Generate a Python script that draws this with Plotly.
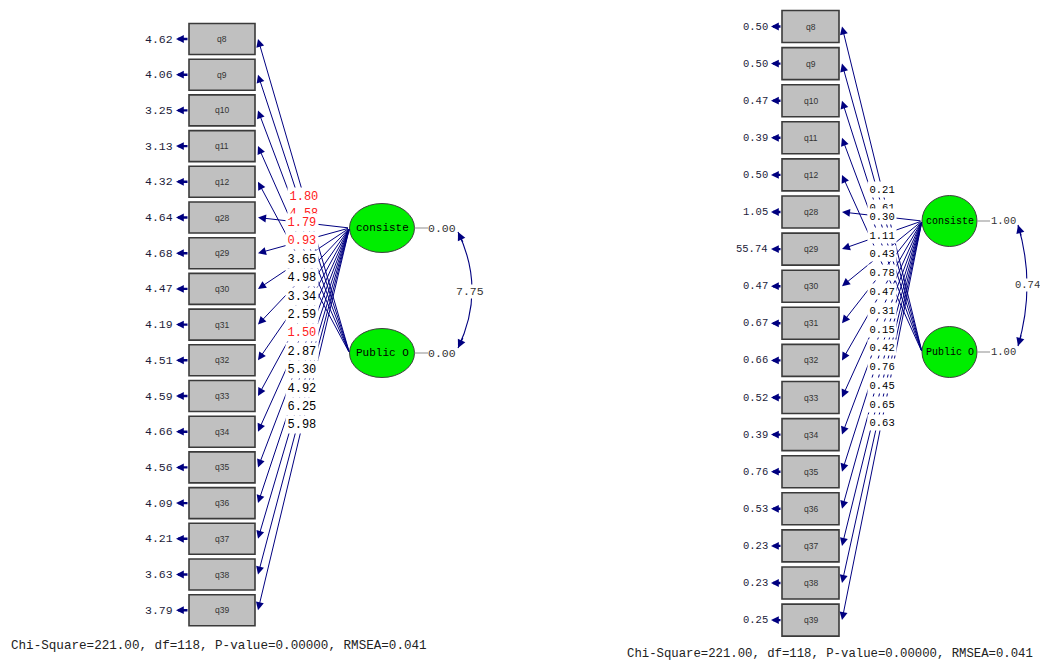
import plotly.graph_objects as go

# ---------------- data ----------------
indicators = ["q8", "q9", "q10", "q11", "q12", "q28", "q29", "q30", "q31", "q32",
              "q33", "q34", "q35", "q36", "q37", "q38", "q39"]
public_items = indicators[:5]
consiste_items = indicators[5:]
latent_names = ["consiste", "Public O"]

left_error = [4.62, 4.06, 3.25, 3.13, 4.32, 4.64, 4.68, 4.47, 4.19, 4.51, 4.59,
              4.66, 4.56, 4.09, 4.21, 3.63, 3.79]
left_public_loadings = [1.80, 4.58, None, None, None]   # None = label hidden in source
left_consiste_loadings = [1.79, 0.93, 3.65, 4.98, 3.34, 2.59, 1.50, 2.87, 5.30,
                          4.92, 6.25, 5.98]
left_flagged = ["q8", "q9", "q28", "q29", "q34"]
left_latent_var = [0.00, 0.00]
left_cov = 7.75

right_error = [0.50, 0.50, 0.47, 0.39, 0.50, 1.05, 55.74, 0.47, 0.67, 0.66, 0.52,
               0.39, 0.76, 0.53, 0.23, 0.23, 0.25]
right_public_loadings = [0.21, 0.61, None, None, None]
right_consiste_loadings = [0.30, 1.11, 0.43, 0.78, 0.47, 0.31, 0.15, 0.42, 0.76,
                           0.45, 0.65, 0.63]
right_flagged = []
right_latent_var = [1.00, 1.00]
right_cov = 0.74

fit_text = "Chi-Square=221.00, df=118, P-value=0.00000, RMSEA=0.041"

# ---------------- layout / style ----------------
W, H = 1040, 662
NAVY = "#000080"
MONO = "Liberation Mono"

left_cfg = dict(bx0=189, bx1=255, bh=31, y0=39, dy=35.7, err_tip=176, err_fs=11.5,
                cx=382, cy=[228, 353], rx=32.5, ry=24.5, lat_fs=11,
                load_fs=12, t=[0.485, 0.5], var_end=428,
                var_x=442, var_fs=11.5, arc=(458, 232, 486, 290, 458, 348),
                cov_xy=(470, 291), fit_xy=(10, 646), fit_fs=12.6, box_fs=8.5)
right_cfg = dict(bx0=782, bx1=839, bh=32, y0=26.5, dy=37.1, err_tip=771, err_fs=10.5,
                 cx=949.5, cy=[221, 352], rx=27.5, ry=25.5, lat_fs=10,
                 load_fs=10.5, t=[0.494, 0.5], var_end=990,
                 var_x=1003, var_fs=10.5, arc=(1018, 225, 1036, 285, 1018, 346),
                 cov_xy=(1027, 285), fit_xy=(626, 654), fit_fs=12.3, box_fs=8.5)

shapes = []
path_anns = []
label_public = []
label_consiste = []
other_anns = []


def arrow(x, y, ax, ay, width=1.0, size=1.6, color=NAVY, head=2):
    return dict(x=x, y=y, ax=ax, ay=ay, xref="x", yref="y", axref="x", ayref="y",
                text="", showarrow=True, arrowhead=head, arrowsize=size,
                arrowwidth=width, arrowcolor=color, standoff=0, startstandoff=0)


def text(x, y, s, fs, color="black", xanchor="center", bg=None, family=MONO, pad=0):
    d = dict(x=x, y=y, xref="x", yref="y", text=s, showarrow=False,
             font=dict(family=family, size=fs, color=color),
             xanchor=xanchor, yanchor="middle", borderpad=pad)
    if bg:
        d["bgcolor"] = bg
    return d


def draw_panel(c, errors, pub_loads, con_loads, flagged, lvar, cov):
    ycent = {name: c["y0"] + i * c["dy"] for i, name in enumerate(indicators)}
    # boxes + errors
    for name, err in zip(indicators, errors):
        yc = ycent[name]
        shapes.append(dict(type="rect", xref="x", yref="y", x0=c["bx0"], x1=c["bx1"],
                           y0=yc - c["bh"] / 2, y1=yc + c["bh"] / 2,
                           fillcolor="#c0c0c0", line=dict(color="#3a3a3a", width=1.6),
                           layer="above"))
        other_anns.append(text((c["bx0"] + c["bx1"]) / 2, yc, name, c["box_fs"],
                               color="#333333", family="Liberation Sans"))
        other_anns.append(arrow(c["err_tip"], yc, c["bx0"], yc, width=2.4, size=0.65))
        other_anns.append(text(c["err_tip"] - 2, yc, f"{err:.2f}", c["err_fs"],
                               color="#1c1c3a", xanchor="right"))
    # latents
    lx = c["cx"] - c["rx"]
    for k, name in enumerate(latent_names):
        cy = c["cy"][k]
        shapes.append(dict(type="circle", xref="x", yref="y",
                           x0=c["cx"] - c["rx"], x1=c["cx"] + c["rx"],
                           y0=cy - c["ry"], y1=cy + c["ry"], fillcolor="#00ee00",
                           line=dict(color="#404040", width=1), layer="above"))
        other_anns.append(text(c["cx"], cy, name, c["lat_fs"]))
        shapes.append(dict(type="line", xref="x", yref="y", x0=c["cx"] + c["rx"],
                           x1=c["var_end"], y0=cy, y1=cy,
                           line=dict(color="#a0a0a0", width=1.2)))
        other_anns.append(text(c["var_x"], cy, f"{lvar[k]:.2f}", c["var_fs"],
                               color="#333333"))
    # paths (straight lines), labels with white background on top
    groups = [(public_items, pub_loads, c["cy"][1], c["t"][1], label_public),
              (consiste_items, con_loads, c["cy"][0], c["t"][0], label_consiste)]
    for items, loads, ly, t, bucket in groups:
        for name, val in zip(items, loads):
            tx, ty = c["bx1"] + 3, ycent[name]
            path_anns.append(arrow(tx, ty, lx, ly, width=1.0, size=1.6))
            if val is None:
                continue
            px = tx + t * (lx - tx)
            py = ty + t * (ly - ty)
            col = "#ff2020" if name in flagged else "black"
            bucket.append(text(px, py, f"{val:.2f}", c["load_fs"], color=col,
                               bg="white", pad=1.5))
    # covariance arc
    x0, y0, qx, qy, x1, y1 = c["arc"]
    shapes.append(dict(type="path", xref="x", yref="y",
                       path=f"M {x0},{y0} Q {qx},{qy} {x1},{y1}",
                       line=dict(color=NAVY, width=1.1)))
    other_anns.append(arrow(x0, y0, x0 + 0.2 * (qx - x0), y0 + 0.2 * (qy - y0),
                            width=1.1, size=1.5))
    other_anns.append(arrow(x1, y1, x1 + 0.2 * (qx - x1), y1 + 0.2 * (qy - y1),
                            width=1.1, size=1.5))
    other_anns.append(text(c["cov_xy"][0], c["cov_xy"][1], f"{cov:.2f}", c["var_fs"],
                           color="#333333", bg="white"))
    other_anns.append(text(c["fit_xy"][0], c["fit_xy"][1], fit_text, c["fit_fs"],
                           color="#222222", xanchor="left"))


draw_panel(left_cfg, left_error, left_public_loadings, left_consiste_loadings,
           left_flagged, left_latent_var, left_cov)
draw_panel(right_cfg, right_error, right_public_loadings, right_consiste_loadings,
           right_flagged, right_latent_var, right_cov)

fig = go.Figure()
fig.add_trace(go.Scatter(x=[0, W], y=[0, H], mode="markers",
                         marker=dict(opacity=0), hoverinfo="skip", showlegend=False))
fig.update_layout(
    width=W, height=H, autosize=False,
    margin=dict(l=0, r=0, t=0, b=0),
    paper_bgcolor="white", plot_bgcolor="white",
    xaxis=dict(range=[0, W], visible=False, fixedrange=True),
    yaxis=dict(range=[H, 0], visible=False, fixedrange=True),
    shapes=shapes,
    annotations=path_anns + label_public + label_consiste + other_anns,
    showlegend=False,
)
fig.write_html("out.html", config={"displayModeBar": False},
               post_script="document.body.style.margin='0';"
                           "document.body.style.overflow='hidden';")
